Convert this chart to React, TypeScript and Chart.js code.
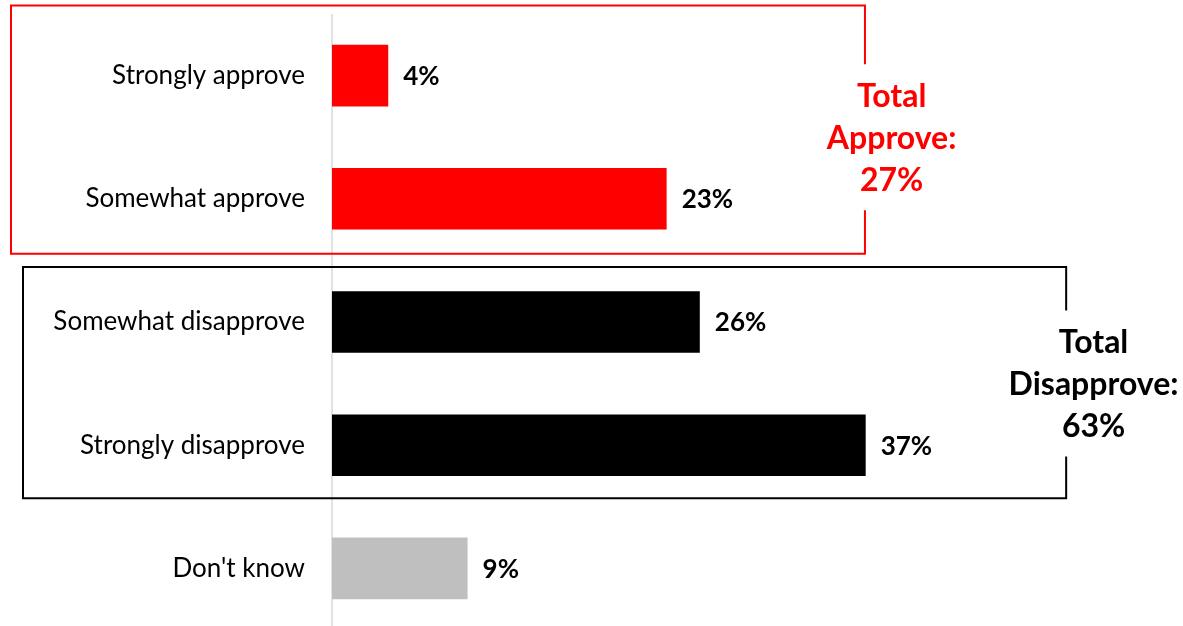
import { useEffect, useRef } from 'react'
import { Chart, registerables } from 'chart.js'

Chart.register(...registerables)

const categories = ['Strongly approve', 'Somewhat approve', 'Somewhat disapprove', 'Strongly disapprove', "Don't know"]
const shares = [3.9, 23.2, 25.5, 37, 9.4]
const barColors = ['#ff0000', '#ff0000', '#000000', '#000000', '#bfbfbf']
const approveNote = ['Total', 'Approve:', '27%']
const disapproveNote = ['Total', 'Disapprove:', '63%']

const FONT = 'Lato, "Open Sans", sans-serif'

function drawOpenBox(ctx: CanvasRenderingContext2D, l: number, t: number, r: number, b: number, gapTop: number, gapBottom: number, color: string) {
  ctx.save()
  ctx.strokeStyle = color
  ctx.lineWidth = 2
  ctx.beginPath()
  ctx.moveTo(r, gapTop)
  ctx.lineTo(r, t)
  ctx.lineTo(l, t)
  ctx.lineTo(l, b)
  ctx.lineTo(r, b)
  ctx.lineTo(r, gapBottom)
  ctx.stroke()
  ctx.restore()
}

function drawNote(ctx: CanvasRenderingContext2D, lines: string[], cx: number, cy: number, color: string) {
  ctx.save()
  ctx.fillStyle = color
  ctx.font = `bold 32px ${FONT}`
  ctx.textAlign = 'center'
  ctx.textBaseline = 'middle'
  lines.forEach((s, i) => ctx.fillText(s, cx, cy + (i - 1) * 42))
  ctx.restore()
}

const overlay = {
  id: 'overlay',
  beforeDatasetsDraw(chart: any) {
    const { ctx, chartArea, scales: { x } } = chart
    const x0 = x.getPixelForValue(0)
    ctx.save()
    ctx.strokeStyle = '#d9d9d9'
    ctx.lineWidth = 1.5
    ctx.beginPath()
    ctx.moveTo(x0, chartArea.top)
    ctx.lineTo(x0, chartArea.bottom)
    ctx.stroke()
    ctx.restore()
  },
  afterDatasetsDraw(chart: any) {
    const { ctx, scales: { x, y } } = chart

    // value labels
    ctx.save()
    ctx.fillStyle = '#000'
    ctx.font = `bold 26px ${FONT}`
    ctx.textBaseline = 'middle'
    shares.forEach((v, i) => {
      ctx.fillText(`${Math.round(v)}%`, x.getPixelForValue(v) + 15, y.getPixelForValue(i) + 1)
    })
    ctx.restore()

    // approve group
    const midA = (y.getPixelForValue(0) + y.getPixelForValue(1)) / 2
    drawOpenBox(ctx, 11, y.getPixelForValue(0) - 70, x.getPixelForValue(36.95), y.getPixelForValue(1) + 55, midA - 73, midA + 73, '#ff0000')
    drawNote(ctx, approveNote, x.getPixelForValue(38.8), midA + 1, '#ff0000')

    // disapprove group
    const midD = (y.getPixelForValue(2) + y.getPixelForValue(3)) / 2
    drawOpenBox(ctx, 23, y.getPixelForValue(2) - 55, x.getPixelForValue(50.9), y.getPixelForValue(3) + 53, midD - 73, midD + 73, '#000000')
    drawNote(ctx, disapproveNote, x.getPixelForValue(52.8), midD + 1, '#000000')
  },
}

export default function App() {
  const ref = useRef<HTMLCanvasElement>(null)

  useEffect(() => {
    if (!ref.current) return
    const chart = new Chart(ref.current, {
      type: 'bar',
      data: {
        labels: categories,
        datasets: [{
          data: shares,
          backgroundColor: barColors,
          borderWidth: 0,
          barPercentage: 0.5,
          categoryPercentage: 1,
        }],
      },
      options: {
        indexAxis: 'y',
        responsive: true,
        maintainAspectRatio: false,
        animation: false,
        layout: { padding: { top: 14, left: 0, right: 0, bottom: 0 } },
        plugins: { legend: { display: false }, tooltip: { enabled: false } },
        scales: {
          x: { display: false, min: 0, max: 59 },
          y: {
            grid: { display: false, drawTicks: false },
            border: { display: false },
            ticks: { color: '#000', padding: 27, font: { family: FONT, size: 26 } },
            afterFit: (scale: any) => {
              scale.width = 332
              scale.paddingTop = 0
              scale.paddingBottom = 0
            },
          },
        },
      },
      plugins: [overlay],
    })
    return () => chart.destroy()
  }, [])

  return (
    <div style={{ position: 'fixed', top: 0, left: 0, width: 1183, height: 630, background: '#fff' }}>
      <canvas ref={ref} />
    </div>
  )
}
